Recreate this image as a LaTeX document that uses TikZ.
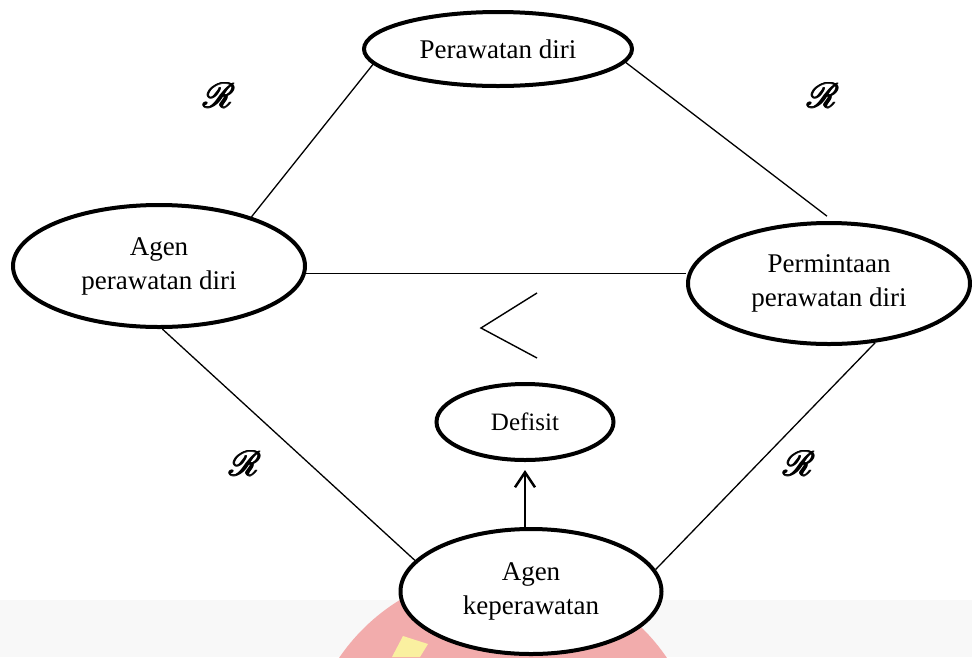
\documentclass[tikz,border=0pt]{standalone}
\usepackage{fontspec}
\setmainfont{Liberation Serif}
\usepackage{graphicx}
\usepackage{mathrsfs}
\usetikzlibrary{shapes.geometric,arrows.meta}
\definecolor{wmgray}{RGB}{248,248,248}
\definecolor{wmpink}{RGB}{242,172,172}
\definecolor{wmyellow}{RGB}{250,240,160}
\newcommand{\oneR}{\hbox{$\mathscr{R}$}}
\newcommand{\fatR}{\scalebox{1.4}{\ooalign{\oneR\cr\kern0.5pt\oneR\cr\kern1.0pt\oneR\cr\kern0.5pt\raise0.5pt\oneR\cr\kern0.5pt\lower0.5pt\oneR\cr}}}
\begin{document}
\begin{tikzpicture}[x=1pt,y=-1pt,
  ell/.style={ellipse,draw,line width=4pt,fill=white,inner sep=0pt,align=center,font=\fontsize{27}{34}\selectfont},
  conn/.style={line width=1.3pt},
  arr/.style={line width=2.5pt,-{Straight Barb[length=15pt,width=20pt,line width=2.5pt]}},
  rlab/.style={font=\fontsize{24.88}{30}\selectfont,inner sep=0pt}]
\useasboundingbox (0,0) rectangle (972,657);
% watermark band
\begin{scope}
\clip (0,600) rectangle (972,657);
\fill[wmgray] (0,600) rectangle (972,657);
\fill[wmpink] (503,769) circle (198pt);
\fill[wmyellow] (392,657) -- (403,636) -- (428,644) -- (420,657) -- cycle;
\end{scope}
% nodes
\node[ell,minimum width=268pt,minimum height=74pt] (T) at (498,49) {Perawatan diri};
\node[ell,minimum width=292pt,minimum height=122pt] (L) at (159,266) {Agen\\perawatan diri};
\node[ell,minimum width=282pt,minimum height=121pt] (Rt) at (829,283.5) {Permintaan\\perawatan diri};
\node[ell,minimum width=177pt,minimum height=76pt,font=\fontsize{25}{32}\selectfont] (D) at (525,422) {Defisit};
\node[ell,minimum width=261pt,minimum height=125pt] (B) at (531,591.5) {Agen\\keperawatan};
% connectors
\draw[conn] (T.187) -- (L.28);
\draw[conn,shorten >=8pt] (T.-6) -- (Rt.86);
\draw[conn] (L.-3) -- (L.-3 -| Rt.west);
\draw[conn] (L.-87) -- (B.165);
\draw[conn] (Rt.-52) -- (B.10);
\draw[arr,shorten >=8pt] (B.north -| D.south) -- (D.south);
% less-than symbol
\coordinate (ca) at (537,293);
\coordinate (cb) at (481,328);
\coordinate (cc) at (537,358);
\draw[line width=1.4pt] (ca) -- (cb) -- (cc);
% R labels
\node[rlab] (r1) at (219,96) {\fatR};
\node[rlab] (r2) at (823,96) {\fatR};
\node[rlab] (r3) at (245,464) {\fatR};
\node[rlab] (r4) at (799,464) {\fatR};
\end{tikzpicture}
\end{document}
